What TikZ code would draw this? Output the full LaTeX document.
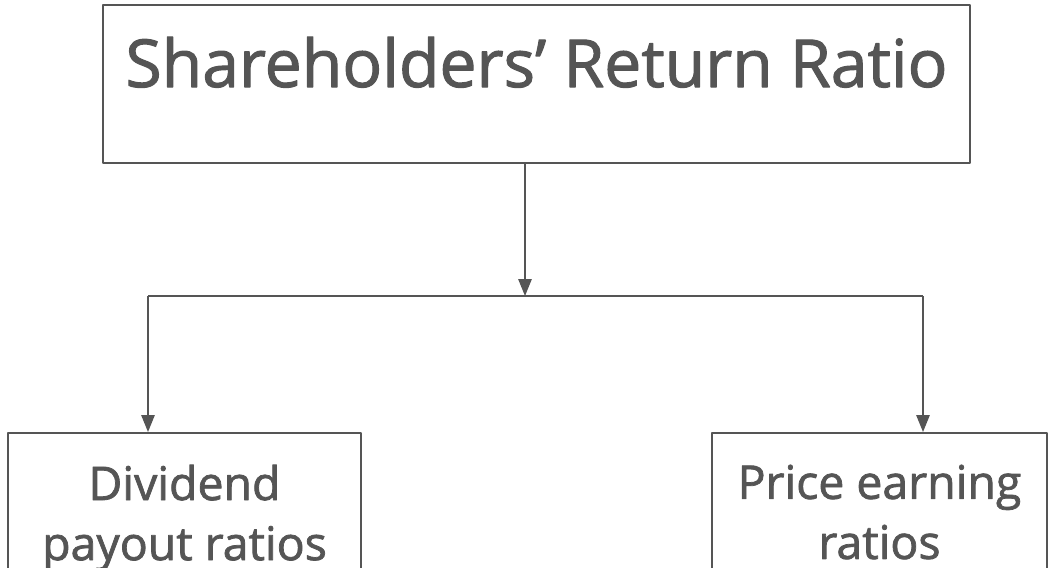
\documentclass[tikz,border=0pt]{standalone}
\usepackage{fontspec}
\setmainfont[FakeBold=1.6]{Open Sans}
\usepackage{xcolor}
\usetikzlibrary{arrows.meta,calc}
\definecolor{inkgray}{HTML}{555555}

\begin{document}
\begin{tikzpicture}[x=0.025cm,y=-0.025cm,>={Triangle[length=12pt,width=9.5pt]},line join=round,
  box/.style={draw=inkgray,line width=1.1pt,text=inkgray,inner xsep=0pt},
  link/.style={draw=inkgray,line width=1pt}]
  \useasboundingbox (0,0) rectangle (1063,567);
  \clip (0,0) rectangle (1063,567);
  % top box
  \node[box,minimum width=21.675cm,minimum height=3.95cm,text height=1.2cm,text depth=1.05cm,
    font=\fontsize{47}{50}\selectfont] (ratio) at (536.5,84) {Shareholders' Return Ratio};
  % the two ratio boxes
  \node[box,anchor=north,minimum width=8.825cm,inner ysep=0.8cm,align=center,
    font=\fontsize{33}{42.7}\selectfont] (div) at (184.5,432) {Dividend\\payout ratios};
  \node[box,anchor=north,minimum width=8.375cm,inner ysep=0.8cm,align=center,
    font=\fontsize{33}{42.7}\selectfont] (pe) at (879.5,432) {Price earning\\ratios};
  \coordinate (split) at (525,296);
  \coordinate (splitL) at (148,296);
  \coordinate (splitR) at (923,296);
  \draw[link,->] (ratio.south -| split) -- (split);
  \draw[link] (splitL) -- (splitR);
  \draw[link,->] (splitL) -- (splitL |- div.north);
  \draw[link,->] (splitR) -- (splitR |- pe.north);
\end{tikzpicture}
\end{document}
